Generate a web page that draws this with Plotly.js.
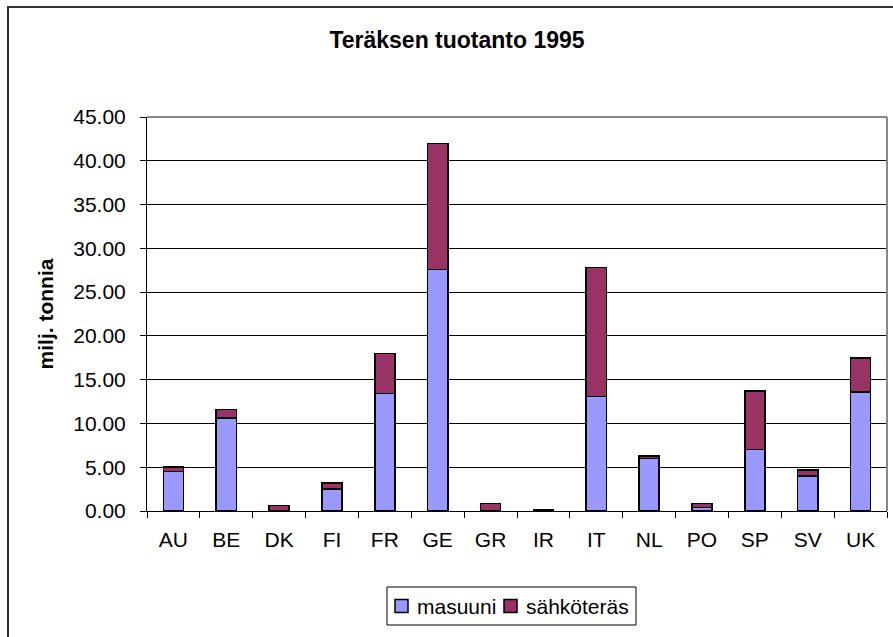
<!DOCTYPE html>
<html>
<head>
<meta charset="utf-8">
<script src="https://cdn.plot.ly/plotly-3.0.1.min.js"></script>
<style>
html,body{margin:0;padding:0;background:#fff;}
#chart{width:893px;height:637px;}
</style>
</head>
<body>
<div id="chart"></div>
<script>
var categories = ["AU","BE","DK","FI","FR","GE","GR","IR","IT","NL","PO","SP","SV","UK"];
var masuuni    = [4.5, 10.6, 0.0, 2.5, 13.4, 27.6, 0.0, 0.0, 13.1, 6.0, 0.4, 7.0, 4.0, 13.6];
var sahkoteras = [0.5, 1.0, 0.65, 0.7, 4.6, 14.4, 0.85, 0.2, 14.7, 0.3, 0.45, 6.7, 0.7, 3.9];
var seriesNames = ["masuuni", "sähköteräs"];
var seriesColors = ["#9999FF", "#993366"];
var yTicks = [0,5,10,15,20,25,30,35,40,45];

var FONT = "Liberation Sans, Arial, sans-serif";

var traces = [
  {type:"bar", name:seriesNames[0], x:categories, y:masuuni, width:0.38,
   marker:{color:seriesColors[0], line:{color:"#000000", width:1.5}}},
  {type:"bar", name:seriesNames[1], x:categories, y:sahkoteras, width:0.38,
   marker:{color:seriesColors[1], line:{color:"#000000", width:1.5}}}
];

var L = 147, R = 887, T = 117, B = 511, W = 893, H = 637;
var pw = R - L, ph = B - T;
function px(x){ return (x - L) / pw; }
function py(y){ return (B - y) / ph; }

// manual legend geometry (pixels)
var legBox = {x0: 387, x1: 636, y0: 587, y1: 625};
var legItems = [{sx: 395, tx: 415}, {sx: 504, tx: 524}];
var legCy = 606, sq = 13;

var shapes = [
  {type: "rect", xref: "paper", yref: "paper", x0: px(8), x1: px(905), y0: py(7), y1: py(660),
   line: {color: "#333333", width: 2}, fillcolor: "rgba(0,0,0,0)", layer: "below"},
  {type: "line", xref: "paper", yref: "paper", x0: 0, x1: 1, y0: 1, y1: 1, line: {color: "#888888", width: 2}},
  {type: "line", xref: "paper", yref: "paper", x0: 1, x1: 1, y0: 0, y1: 1, line: {color: "#888888", width: 2}},
  {type: "rect", xref: "paper", yref: "paper", x0: px(legBox.x0), x1: px(legBox.x1), y0: py(legBox.y0), y1: py(legBox.y1),
   line: {color: "#000000", width: 1}, fillcolor: "#ffffff"}
];
var annotations = [];
legItems.forEach(function(it, i){
  shapes.push({type: "rect", xref: "paper", yref: "paper",
    x0: px(it.sx), x1: px(it.sx + sq), y0: py(legCy - sq/2), y1: py(legCy + sq/2),
    line: {color: "#000000", width: 1.5}, fillcolor: seriesColors[i]});
  annotations.push({xref: "paper", yref: "paper", x: px(it.tx), y: py(legCy), xanchor: "left", yanchor: "middle",
    text: seriesNames[i], showarrow: false, font: {family: FONT, size: 21, color: "#000"}});
});

var layout = {
  width: W, height: H,
  margin: {l: L, r: W - R, t: T, b: H - B, pad: 0},
  paper_bgcolor: "#ffffff",
  plot_bgcolor: "#ffffff",
  barmode: "stack",
  showlegend: false,
  font: {family: FONT, color: "#000000", size: 21},
  title: {text: "Teräksen tuotanto 1995", font: {family: FONT, size: 23, weight: "bold", color:"#000"},
          x: px(457), xref: "paper", xanchor: "center", y: 1 - 40/H, yref: "container", yanchor: "middle"},
  xaxis: {
    type: "category", showgrid: false, zeroline: false,
    showline: true, linecolor: "#000000", linewidth: 1,
    ticks: "outside", ticklen: 6, tickcolor: "#000000", tickwidth: 1,
    tickson: "boundaries", ticklabelstandoff: 10,
    tickfont: {family: FONT, size: 21, color: "#000"}
  },
  yaxis: {
    range: [0, 45], tickvals: yTicks, tickformat: ".2f",
    showgrid: true, gridcolor: "#000000", gridwidth: 1,
    zeroline: false, showline: true, linecolor: "#000000", linewidth: 1,
    ticks: "outside", ticklen: 6, tickcolor: "#000000", tickwidth: 1,
    ticklabelstandoff: 10,
    tickfont: {family: FONT, size: 21, color: "#000"},
    title: {text: "milj. tonnia", font: {family: FONT, size: 21, weight: "bold", color: "#000"}, standoff: 13}
  },
  shapes: shapes,
  annotations: annotations
};

Plotly.newPlot("chart", traces, layout, {displayModeBar: false, staticPlot: true});
</script>
</body>
</html>
